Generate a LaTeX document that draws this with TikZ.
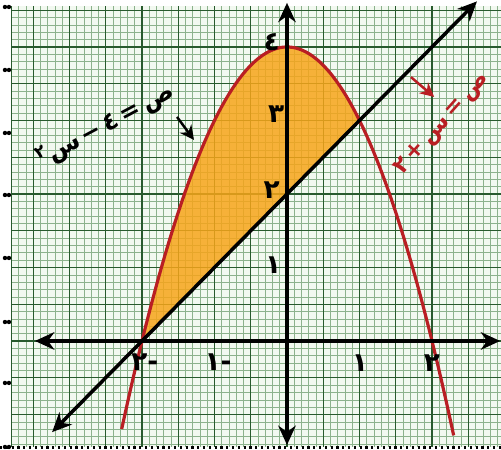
\documentclass[tikz,border=0pt]{standalone}
\usepackage{fontspec}
\TeXXeTstate=1
\newfontfamily\arabicfont[Script=Arabic]{DejaVu Sans}
\usetikzlibrary{arrows.meta}
\definecolor{paper}{RGB}{242,249,240}
\definecolor{minorc}{RGB}{140,178,140}
\definecolor{majorc}{RGB}{40,90,45}
\definecolor{curvec}{RGB}{185,30,35}
\definecolor{fillc}{RGB}{247,165,25}
\tikzset{
  minor/.style={line width=0.3pt, minorc},
  major/.style={line width=0.8pt, majorc},
  axis/.style={line width=2.2pt, black, {Stealth[length=11pt,width=10pt]}-{Stealth[length=11pt,width=10pt]}},
  curve/.style={line width=1.8pt, curvec},
  lbl/.style={font=\arabicfont\bfseries\fontsize{15}{18}\selectfont, inner sep=0pt},
  eqlbl/.style={font=\arabicfont\bfseries\fontsize{13}{16}\selectfont, inner sep=0pt},
  pointer/.style={line width=1.4pt, -{Stealth[length=8pt,width=8pt]}},
  hole/.style={circle, fill=black, inner sep=0pt, minimum size=2.5pt}
}
\begin{document}
\begin{tikzpicture}[x=1.45cm,y=1.47cm]
\useasboundingbox (-3.9586,-1.483) rectangle (2.9517,4.639);
\fill[white] (-3.9586,-1.483) rectangle (2.9517,4.639);
\begin{scope}
\clip (-3.9586,-1.483) rectangle (2.9517,4.639);
\fill[paper] (-3.8,-1.44) rectangle (3,4.56);
\draw[minor] (-3.8,-1.44) grid[step=0.1] (3,4.56);
\draw[major] (-3.8,-1.44) grid[step=0.5] (3,4.56);
\draw[major] (-3.8,-1.44) -- (-3.8,4.56);
% shaded region
\fill[fillc, opacity=0.85] plot[domain=-2:1, samples=60] (\x,{4-\x*\x}) -- cycle;
% parabola
\draw[curve] plot[domain=-2.28:2.3, samples=100] (\x,{4-\x*\x});
% axes
\coordinate (xl) at (-3.476,0);
\coordinate (xr) at (2.94,0);
\coordinate (yt) at (0,4.6);
\coordinate (yb) at (0,-1.415);
\draw[axis] (xl) -- (xr);
\draw[axis] (yb) -- (yt);
% line y = x + 2
\coordinate (la) at (-3.24,-1.24);
\coordinate (lb) at (2.62,4.62);
\draw[axis, line width=2pt] (la) -- (lb);
% binder holes
\foreach \yy [count=\i] in {4.544,3.687,2.830,1.986,1.129,0.258,-0.571,-1.442}{
  \node[hole] (ha\i) at (-3.89,\yy) {};
  \node[hole] (hb\i) at (-3.835,\yy) {};
}
\coordinate (bl) at (-3.9586,-1.45);
\coordinate (br) at (2.9517,-1.45);
\draw[line width=1.3pt, dotted] (bl) -- (br);
\end{scope}
% axis labels
\node[lbl] (y4) at (-0.21,4.07) {\beginR ٤\endR};
\node[lbl] (y3) at (-0.15,3.08) {\beginR ٣\endR};
\node[lbl] (y2) at (-0.21,2.05) {\beginR ٢\endR};
\node[lbl] (y1) at (-0.19,1.03) {\beginR ١\endR};
\node[lbl] (xm2) at (-1.96,-0.29) {\beginR -٢\endR};
\node[lbl] (xm1) at (-0.95,-0.29) {\beginR -١\endR};
\node[lbl] (xp1) at (1.007,-0.30) {\beginR ١\endR};
\node[lbl] (xp2) at (2.0,-0.30) {\beginR ٢\endR};
% equation labels
\node[eqlbl, rotate=28, font=\arabicfont\bfseries\fontsize{14}{17}\selectfont] (eqp) at (-2.5,2.93) {\beginR ص\,=\,٤\,−\,س\textsuperscript{٢}\endR};
\node[eqlbl, rotate=48, text=curvec] (eql) at (2.14,2.95) {\beginR ص\,=\,س\,+\,٢\endR};
\coordinate (pa) at (-1.517,3.048);
\coordinate (pb) at (-1.283,2.735);
\draw[pointer] (pa) -- (pb);
\coordinate (qa) at (1.71,3.59);
\coordinate (qb) at (2.03,3.32);
\draw[pointer, curvec] (qa) -- (qb);
\end{tikzpicture}
\end{document}
